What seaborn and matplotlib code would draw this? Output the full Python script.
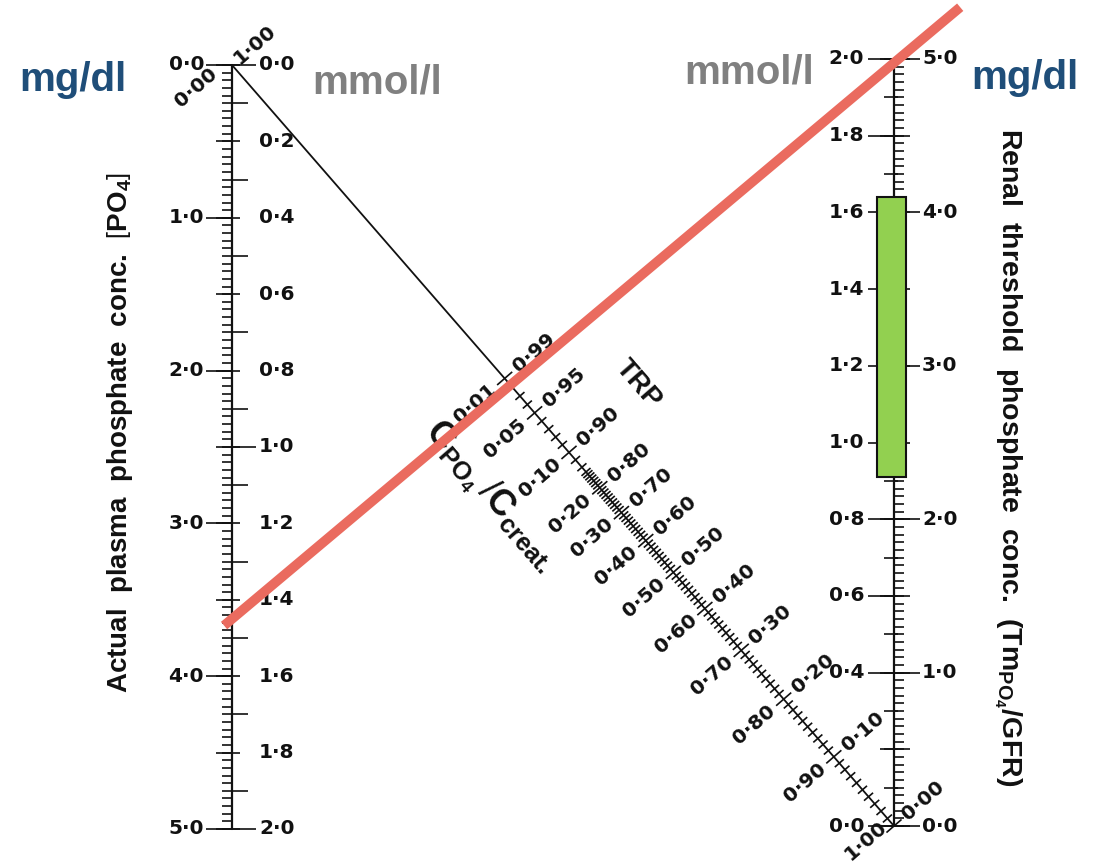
import numpy as np
import matplotlib.pyplot as plt
from matplotlib.collections import LineCollection
from matplotlib.patches import Rectangle
import seaborn as sns

sns.set_theme(style="white")
plt.rcParams['font.family'] = ['DejaVu Sans']
plt.rcParams['mathtext.fontset'] = 'custom'
plt.rcParams['mathtext.rm'] = 'Liberation Sans'
plt.rcParams['mathtext.bf'] = 'Liberation Sans:bold'

# ---- scale values ----
left_mg_ticks = [0, 1, 2, 3, 4, 5]
left_mg_labels = ["0·0", "1·0", "2·0", "3·0", "4·0", "5·0"]
left_mmol_ticks = [0.0, 0.2, 0.4, 0.6, 0.8, 1.0, 1.2, 1.4, 1.6, 1.8, 2.0]
left_mmol_labels = ["0·0", "0·2", "0·4", "0·6", "0·8", "1·0", "1·2", "1·4", "1·6", "1·8", "2·0"]
right_mmol_ticks = [0.0, 0.4, 0.6, 0.8, 1.0, 1.2, 1.4, 1.6, 1.8, 2.0]
right_mmol_labels = ["0·0", "0·4", "0·6", "0·8", "1·0", "1·2", "1·4", "1·6", "1·8", "2·0"]
right_mg_ticks = [0, 1, 2, 3, 4, 5]
right_mg_labels = ["0·0", "1·0", "2·0", "3·0", "4·0", "5·0"]

# CPO4/Ccreat ticks on the diagonal, TRP = 1 - ratio
c_ratio_ticks = [0.01, 0.05, 0.10, 0.20, 0.30, 0.40, 0.50, 0.60, 0.70, 0.80, 0.90, 1.00]
c_ratio_labels = ["0·01", "0·05", "0·10", "0·20", "0·30", "0·40", "0·50",
                  "0·60", "0·70", "0·80", "0·90", "1·00"]
trp_labels = ["0·99", "0·95", "0·90", "0·80", "0·70", "0·60", "0·50",
              "0·40", "0·30", "0·20", "0·10", "0·00"]

# worked example (red line) and normal range (green bar), mmol/l
plasma_example = 1.45
tmp_example = 1.99
normal_range = (0.91, 1.64)

# ---- layout of the nomogram (pixels) ----
XL, YL0, KL = 232, 65, 382      # left axis: x, y of 0, px per mmol/l
XR, YR0, KR = 894, 826, 383.5   # right axis: x, y of 0, px per mmol/l
MG_PER_MMOL = 2.5               # as drawn: 5.0 mg/dl opposite 2.0 mmol/l
TICK_FS = 14.5
BLACK = "#111111"


def yl(mmol):
    return YL0 + KL * np.asarray(mmol, dtype=float)


def yr(mmol):
    return YR0 - KR * np.asarray(mmol, dtype=float)


def diag_xy(c):
    trp = 1 - np.asarray(c, dtype=float)
    ratio = np.maximum(trp, 0.3 * trp / (1 - 0.8 * trp))
    t = 1 / (1 + ratio)
    return XL + t * (XR - XL), YL0 + t * (YR0 - YL0)


fig = plt.figure(figsize=(10.95, 8.67), dpi=100)
ax = fig.add_axes([0, 0, 1, 1])
ax.set_xlim(0, 1095)
ax.set_ylim(867, 0)
ax.axis("off")

segs = []

# left axis
ax.plot([XL, XL], [yl(0), yl(2.0)], color=BLACK, lw=1.6)
for m in np.arange(0, 101) * 0.02:
    segs.append([(XL - 10, yl(m)), (XL, yl(m))])
for m in np.arange(0, 11) * 0.2:
    segs.append([(XL - 16, yl(m)), (XL + 8, yl(m))])
for m in np.arange(0, 10) * 0.2 + 0.1:
    segs.append([(XL, yl(m)), (XL + 16, yl(m))])
for v, lab in zip(left_mg_ticks, left_mg_labels):
    y = yl(v / MG_PER_MMOL)
    segs.append([(XL - 26, y), (XL, y)])
    ax.text(XL - 28, y, lab, ha="right", va="center", fontsize=TICK_FS,
            fontweight="bold", color=BLACK)
for v, lab in zip(left_mmol_ticks, left_mmol_labels):
    y = yl(v)
    if v in (0.0, 1.0, 2.0):
        segs.append([(XL, y), (XL + 24, y)])
    ax.text(XL + 27, y, lab, ha="left", va="center", fontsize=TICK_FS,
            fontweight="bold", color=BLACK)

# right axis
ax.plot([XR, XR], [yr(0), yr(2.0)], color=BLACK, lw=1.6)
for m in np.arange(0, 101) * 0.02:
    segs.append([(XR, yr(m)), (XR + 10, yr(m))])
for m in np.arange(0, 21) * 0.1:
    segs.append([(XR - 10, yr(m)), (XR + 4, yr(m))])
for m in np.arange(0, 11) * 0.2:
    segs.append([(XR - 14, yr(m)), (XR + 16, yr(m))])
for v, lab in zip(right_mmol_ticks, right_mmol_labels):
    y = yr(v)
    segs.append([(XR - 26, y), (XR, y)])
    ax.text(XR - 30, y, lab, ha="right", va="center", fontsize=TICK_FS,
            fontweight="bold", color=BLACK)
for v, lab in zip(right_mg_ticks, right_mg_labels):
    y = yr(v / MG_PER_MMOL)
    segs.append([(XR, y), (XR + 26, y)])
    ax.text(XR + 28, y, lab, ha="left", va="center", fontsize=TICK_FS,
            fontweight="bold", color=BLACK)

# diagonal TRP / CPO4-Ccreat scale
ux, uy = XR - XL, YR0 - YL0
norm = np.hypot(ux, uy)
ux, uy = ux / norm, uy / norm
px, py = uy, -ux                      # perpendicular, towards upper right
rot = np.degrees(np.arctan2(ux, uy))  # text perpendicular to the diagonal
ax.plot([XL, XR], [YL0, YR0], color=BLACK, lw=1.3)
for c in np.arange(1, 101) / 100:
    x, y = diag_xy(c)
    h = 10 if np.isclose(c, c_ratio_ticks).any() else 6
    segs.append([(x - px * h, y - py * h), (x + px * h, y + py * h)])
for c, cl, tl in zip(c_ratio_ticks, c_ratio_labels, trp_labels):
    x, y = diag_xy(c)
    ax.text(x + px * 14, y + py * 14, tl, ha="left", va="center", rotation=rot,
            rotation_mode="anchor", fontsize=TICK_FS, fontweight="bold", color=BLACK)
    if c == 1.0:   # keep the last label inside the picture
        x, y = x - ux * 8, y - uy * 8
        off_c = 6
    else:
        off_c = 14
    ax.text(x - px * off_c, y - py * off_c, cl, ha="right", va="center", rotation=rot,
            rotation_mode="anchor", fontsize=TICK_FS, fontweight="bold", color=BLACK)
# end labels at the top-left corner of the diagonal
ax.text(XL + px * 6, YL0 + py * 6, "1·00", ha="left", va="center", rotation=rot,
        rotation_mode="anchor", fontsize=TICK_FS, fontweight="bold", color=BLACK)
ax.text(XL - px * 10 - 10, YL0 - py * 10, "0·00", ha="right", va="center", rotation=rot,
        rotation_mode="anchor", fontsize=TICK_FS, fontweight="bold", color=BLACK)

ax.add_collection(LineCollection(segs, colors=BLACK, linewidths=1.2))

ax.text(638, 384, "TRP", rotation=rot - 90, ha="center", va="center",
        fontsize=20, fontweight="bold", family="Liberation Sans", color=BLACK)
ax.text(490, 496, r"$\mathbf{C}_{\mathbf{PO_4}}\,/\mathbf{C}_{\mathbf{creat.}}$",
        rotation=rot - 90, ha="center", va="center", fontsize=26, color=BLACK)

# axis titles
ax.text(120, 432, r"Actual  plasma  phosphate  conc.  $\mathbf{\left[PO_4\right]}$",
        rotation=90, ha="center", va="center", fontsize=20, fontweight="bold",
        family="Liberation Sans", color=BLACK)
ax.text(1008, 457, r"Renal  threshold  phosphate  conc.  (Tm$_{\mathbf{PO_4}}$/GFR)",
        rotation=-90, ha="center", va="center", fontsize=20.5, fontweight="bold",
        family="Liberation Sans", color=BLACK)

# unit headers
unit_kw = dict(ha="center", va="center", fontsize=29, fontweight="bold",
               family="Liberation Sans")
ax.text(73, 80, "mg/dl", color="#1f4e79", **unit_kw)
ax.text(377, 82, "mmol/l", color="#808080", **unit_kw)
ax.text(749, 72, "mmol/l", color="#808080", **unit_kw)
ax.text(1025, 78, "mg/dl", color="#1f4e79", **unit_kw)

# normal range bar
lo, hi = normal_range
ax.add_patch(Rectangle((XR - 17, yr(hi)), 29, yr(lo) - yr(hi), facecolor="#92d050",
                       edgecolor=BLACK, lw=1.5, zorder=5))

# worked example line
s = np.array([-0.012, 1.1])
y_left, y_right = float(yl(plasma_example)), float(yr(tmp_example))
sns.lineplot(x=XL + s * (XR - XL), y=y_left + s * (y_right - y_left), ax=ax,
             color="#ea6b5f", lw=7, zorder=6, solid_capstyle="butt")

fig.savefig("out.png", dpi=100, facecolor="white")
